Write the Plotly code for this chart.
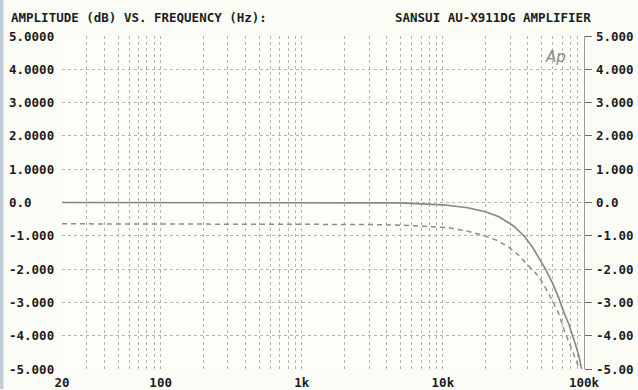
import plotly.graph_objects as go

# Frequency response, Samsui AU-X911DG, two measurement conditions
freq_solid = [20, 100, 1000, 5000, 10000, 15000, 20000, 25000, 32000, 38000, 43000,
              48000, 53000, 60000, 66000, 72000, 78000, 86000, 92000, 96000]
db_solid = [0.0, 0.0, 0.0, -0.01, -0.07, -0.16, -0.28, -0.43, -0.72, -1.03, -1.33,
            -1.66, -1.98, -2.43, -2.85, -3.3, -3.65, -4.2, -4.6, -5.0]

freq_dash = [20, 100, 1000, 3000, 5000, 8000, 11000, 15000, 19000, 24000, 29000,
             34000, 38000, 43000, 48000, 56000, 66000, 73000, 80000, 85000, 90000, 93000]
db_dash = [-0.64, -0.64, -0.65, -0.66, -0.68, -0.72, -0.76, -0.86, -0.98, -1.13, -1.33,
           -1.56, -1.78, -2.0, -2.23, -2.72, -3.32, -3.88, -4.3, -4.55, -4.82, -5.0]

x_grid = [m * 10 ** e for e in range(1, 6) for m in range(1, 10)
          if 20 <= m * 10 ** e <= 100000]
x_labels = {20: "20", 100: "100", 1000: "1k", 10000: "10k", 100000: "100k"}

y_ticks = [5, 4, 3, 2, 1, 0, -1, -2, -3, -4, -5]
left_labels = ["5.0000", "4.0000", "3.0000", "2.0000", "1.0000", "0.0",
               "-1.000", "-2.000", "-3.000", "-4.000", "-5.000"]
right_labels = ["5.000", "4.000", "3.000", "2.000", "1.000", "0.0",
                "-1.00", "-2.00", "-3.00", "-4.00", "-5.00"]

title_left = "AMPLITUDE (dB) VS. FREQUENCY (Hz):"
title_right = "SANSUI AU-X911DG AMPLIFIER"

FONT = "DejaVu Sans Mono"
TXT = "#1c1c1c"
GRID = "#b4b4aa"


def bold(s):
    return "<b>" + s + "</b>"


fig = go.Figure()
# dashed curve is plotted against the right-hand axis (same dB scale)
fig.add_trace(go.Scatter(x=freq_dash, y=db_dash, mode="lines", yaxis="y2",
                         line=dict(color="#8e8e86", width=1.5, dash="5px,4px"),
                         showlegend=False))
fig.add_trace(go.Scatter(x=freq_solid, y=db_solid, mode="lines",
                         line=dict(color="#85887c", width=1.6),
                         showlegend=False))

annotations = []
for v, lt, rt in zip(y_ticks, left_labels, right_labels):
    annotations.append(dict(x=0, xref="paper", y=v, yref="y", text=bold(lt),
                            xanchor="left", xshift=-55, showarrow=False,
                            font=dict(family=FONT, size=12.5, color=TXT)))
    annotations.append(dict(x=1, xref="paper", y=v, yref="y", text=bold(rt),
                            xanchor="left", xshift=10, showarrow=False,
                            font=dict(family=FONT, size=12.5, color=TXT)))
annotations.append(dict(x=0, xref="paper", y=1, yref="paper", text=bold(title_left),
                        xanchor="left", yanchor="middle", xshift=-53, yshift=19,
                        showarrow=False, font=dict(family=FONT, size=12.5, color=TXT)))
annotations.append(dict(x=1, xref="paper", y=1, yref="paper", text=bold(title_right),
                        xanchor="right", yanchor="middle", xshift=9, yshift=19,
                        showarrow=False, font=dict(family=FONT, size=12.5, color=TXT)))
annotations.append(dict(x=0.945, xref="paper", y=0.97, yref="paper", text="Ap",
                        xanchor="center", yanchor="top", showarrow=False,
                        font=dict(family="DejaVu Sans", size=15, color="#8a8a8a",
                                  style="italic")))

fig.update_layout(
    width=638, height=390,
    margin=dict(l=62, r=54, t=36, b=21),
    paper_bgcolor="#fcfcf7", plot_bgcolor="#fdfdf9",
    annotations=annotations,
    xaxis=dict(type="log", range=[1.30103, 5.0], tickvals=x_grid,
               ticktext=[bold(x_labels[v]) if v in x_labels else "" for v in x_grid],
               showgrid=True, gridcolor=GRID, griddash="dot", gridwidth=1,
               zeroline=False, showline=False, ticks="", automargin=False,
               ticklabelstandoff=4,
               tickfont=dict(family=FONT, size=12.5, color=TXT)),
    yaxis=dict(range=[-5, 5], tickvals=y_ticks, showticklabels=False,
               showgrid=True, gridcolor=GRID, griddash="dot", gridwidth=1,
               zeroline=False, showline=False, ticks="", automargin=False),
    yaxis2=dict(range=[-5, 5], tickvals=y_ticks, overlaying="y", side="right",
                showticklabels=False, showgrid=False, zeroline=False,
                showline=True, linecolor="#9a9a92", linewidth=1,
                ticks="outside", ticklen=7, tickcolor="#6a6a64", tickwidth=1.2,
                automargin=False),
    shapes=[
        dict(type="rect", xref="paper", yref="paper", x0=-0.119, x1=-0.112,
             y0=-0.06, y1=1.11, fillcolor="#a9b8cc", line=dict(width=0), opacity=0.7),
    ],
)

fig.write_html("out.html")
